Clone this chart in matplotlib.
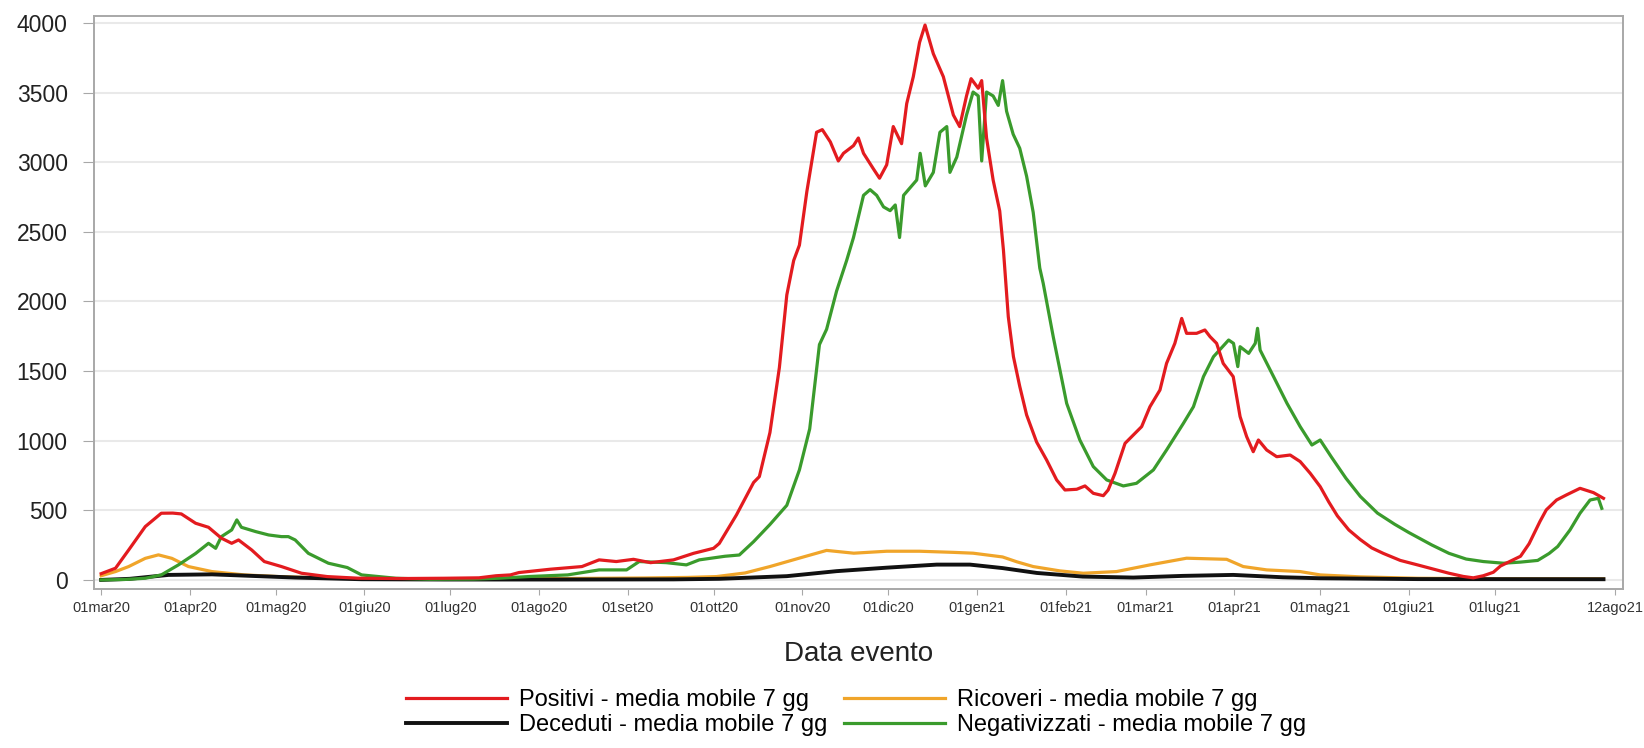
import numpy as np
import pandas as pd
import matplotlib
matplotlib.use("Agg")
import matplotlib.pyplot as plt

plt.rcParams['font.family'] = ['Liberation Sans', 'DejaVu Sans']

# giorni dal 01mar20 e valori (media mobile 7 gg)
pos_days = [0, 5, 9.6, 15.4, 21, 25, 28, 33, 37.5, 42, 45.6, 48, 52.6, 57, 63, 70, 79, 90, 105, 120,
            132, 138, 143, 146, 157, 168, 174, 180, 186, 192, 200, 207, 214, 216, 222, 228, 230, 233.7,
            237, 239.6, 242, 244, 246.6, 250, 252, 254.8, 257.6, 259.4, 262.9, 264.6, 266.4, 269.8,
            272, 274.5, 276.8, 279.7, 281.5, 283.8, 286, 287.9, 290.8, 294.3, 297.8, 300, 302.4, 304,
            306.5, 307.7, 309.4, 311.7, 314, 315.3, 317, 318.8, 321, 323.4, 326.9, 330.4, 333.9, 336.8,
            340.9, 343.8, 346.7, 350.2, 351.9, 354.3, 357.8, 360.7, 363.6, 366.5, 370, 372.3, 375.2,
            377.6, 379.3, 382.8, 385.7, 387.5, 389.8, 392.1, 395.6, 398, 400.3, 402.6, 404.4, 407.3,
            410.8, 415.5, 419, 422.5, 426, 429, 432, 436, 440, 444, 448, 454, 460, 466, 471, 476,
            479.5, 483, 486.5, 489, 492, 496, 499, 502.8, 505, 508.6, 512, 516.8, 521.5, 525]
pos_vals = [45, 84, 215, 383, 479, 480, 474, 407, 378, 300, 263, 287, 215, 132, 96, 48, 24, 12, 10, 12,
            15, 30, 36, 53, 77, 96, 144, 132, 148, 124, 144, 191, 227, 262, 467, 700, 742, 1058,
            1525, 2047, 2294, 2404, 2789, 3215, 3234, 3146, 3009, 3064, 3119, 3174, 3064, 2954,
            2885, 2981, 3256, 3133, 3421, 3614, 3861, 3985, 3779, 3614, 3339, 3256, 3476, 3600,
            3531, 3586, 3174, 2872, 2650, 2369, 1890, 1603, 1390, 1185, 990, 861, 718, 646,
            651, 675, 622, 605, 646, 766, 981, 1041, 1101, 1244, 1364, 1555, 1699,
            1878, 1771, 1771, 1795, 1747, 1699, 1555, 1460, 1173, 1029, 921, 1005, 933,
            885, 897, 850, 766, 670, 560, 460, 359, 290, 230, 191, 140, 108, 75, 48, 25,
            15, 30, 55, 100, 130, 170, 260, 420, 503, 574, 610, 658, 627, 586]

neg_days = [0, 8, 15.4, 21, 27, 33, 37.5, 40, 42, 45.6, 47.4, 49, 54, 58.5, 63, 65.4, 67.8, 72.4, 79.4,
            86, 91, 103, 115, 130, 139, 150, 163, 174, 183.6, 188, 197.5, 204.5, 209, 218, 223, 228,
            233.7, 239.6, 244, 247.6, 251, 253.5, 257, 260.5, 262.9, 266.4, 268.7, 271, 273.4, 275.7,
            277.5, 279, 280.4, 282.7, 285, 286.2, 288, 290.8, 293.1, 295.5, 296.6, 299, 302.4, 304.7,
            306.5, 307.7, 309.4, 311.7, 313.5, 315, 316.4, 318.7, 321, 323.4, 325.7, 328, 329.2,
            332.7, 337.4, 342, 346.7, 351.4, 357.2, 361.8, 367.7, 372.3, 378.2, 381.7, 385.2, 388.7,
            394, 395.7, 397.2, 398, 401, 403.3, 404.1, 405, 409.7, 414.4, 419, 423.1, 426, 430, 435,
            440, 446, 452, 457, 465, 471, 477, 483, 490, 496, 502, 506, 509, 513.3, 516.8, 520.3,
            523.2, 524.4]
neg_vals = [0, 3, 12, 36, 108, 190, 263, 227, 311, 359, 431, 378, 347, 323, 311, 311, 287, 191, 120,
            89, 36, 12, 5, 6, 12, 25, 36, 72, 72, 132, 124, 108, 144, 170, 179, 275,
            398, 536, 790, 1085, 1690, 1800, 2075, 2294, 2459, 2762, 2803, 2762, 2679, 2652,
            2693, 2459, 2762, 2817, 2872, 3064, 2830, 2927, 3215, 3256, 2927, 3037, 3339, 3504,
            3476, 3009, 3504, 3476, 3408, 3586, 3366, 3201, 3100, 2899, 2640, 2240, 2130,
            1747, 1268, 1005, 814, 718, 675, 694, 790, 933, 1125, 1244, 1460, 1603,
            1723, 1699, 1532, 1675, 1627, 1699, 1807, 1651, 1460, 1268, 1101, 969, 1005, 880, 730,
            600, 480, 400, 340, 251, 191, 150, 132, 120, 128, 140, 190, 240, 359, 479, 574,
            586, 514]

ric_days = [0, 5, 9.6, 15.4, 20, 24.7, 30.5, 38.7, 50, 62, 80, 100, 130, 160, 190, 205, 215, 225, 233.7,
            245.4, 253.5, 263, 274.5, 286, 297.8, 304.7, 315, 320, 325.7, 335, 343.2, 354.8, 366.5,
            379.3, 393.3, 399.1, 407.3, 419, 426, 440, 460, 490, 525]
ric_vals = [30, 60, 96, 155, 180, 155, 96, 60, 36, 24, 12, 8, 8, 10, 14, 18, 24, 50, 96,
            165, 212, 192, 206, 206, 198, 192, 165, 130, 96, 65, 48, 60, 108,
            156, 148, 96, 72, 60, 36, 22, 12, 8, 8]

dec_days = [0, 10, 23.5, 38.7, 50, 67.8, 91, 120, 160, 200, 216, 239.6, 257, 274.5, 292, 303.6, 315,
            327, 343, 360.7, 378, 395.6, 413, 426, 460, 525]
dec_vals = [0, 8, 36, 40, 31, 17, 5, 3, 3, 4, 8, 27, 63, 88, 110, 110, 85,
            50, 24, 17, 29, 36, 19, 12, 6, 5]

tick_dates = ['2020-03-01', '2020-04-01', '2020-05-01', '2020-06-01', '2020-07-01', '2020-08-01',
              '2020-09-01', '2020-10-01', '2020-11-01', '2020-12-01', '2021-01-01', '2021-02-01',
              '2021-03-01', '2021-04-01', '2021-05-01', '2021-06-01', '2021-07-01', '2021-08-12']
tick_labels = ['01mar20', '01apr20', '01mag20', '01giu20', '01lug20', '01ago20', '01set20', '01ott20',
               '01nov20', '01dic20', '01gen21', '01feb21', '01mar21', '01apr21', '01mag21', '01giu21',
               '01lug21', '12ago21']

base = pd.Timestamp('2020-03-01')


def to_dates(days):
    return base + pd.to_timedelta(np.array(days), unit='D')


fig = plt.figure(figsize=(16.44, 7.48), dpi=100)
ax = fig.add_axes([0.0572, 0.2126, 0.93, 0.766])

ax.plot(to_dates(ric_days), ric_vals, color='#f0a52a', lw=2.3, label='Ricoveri - media mobile 7 gg')
ax.plot(to_dates(dec_days), dec_vals, color='#111111', lw=2.8, label='Deceduti - media mobile 7 gg')
ax.plot(to_dates(neg_days), neg_vals, color='#3a9b2c', lw=2.3, label='Negativizzati - media mobile 7 gg')
ax.plot(to_dates(pos_days), pos_vals, color='#e31b1f', lw=2.3, label='Positivi - media mobile 7 gg')

ax.set_xlim(base - pd.Timedelta(days=2.5), base + pd.Timedelta(days=531.8))
ax.set_ylim(-65, 4050)
ax.set_yticks(np.arange(0, 4001, 500))
ax.set_xticks(pd.to_datetime(tick_dates))
ax.set_xticklabels(tick_labels)

ax.grid(axis='y', color='#e9e9e9', lw=1.5)
ax.set_axisbelow(True)
for s in ax.spines.values():
    s.set_color('#a8a8a8')
    s.set_linewidth(1.4)

ax.tick_params(axis='y', labelsize=16.5, length=8, pad=11, color='#a8a8a8', labelcolor='#222222')
ax.tick_params(axis='x', labelsize=10.5, length=4.5, pad=4, color='#a8a8a8', labelcolor='#333333')
ax.set_xlabel('Data evento', fontsize=20, color='#222222', labelpad=19)

h, l = ax.get_legend_handles_labels()
order = [3, 1, 0, 2]
fig.legend([h[i] for i in order], [l[i] for i in order], ncol=2, loc='center',
           bbox_to_anchor=(0.5207, 0.047), frameon=False, fontsize=17,
           handlelength=4.3, handletextpad=0.5, columnspacing=0.7, labelspacing=0.12,
           borderpad=0)

fig.savefig('out.png', dpi=100)
